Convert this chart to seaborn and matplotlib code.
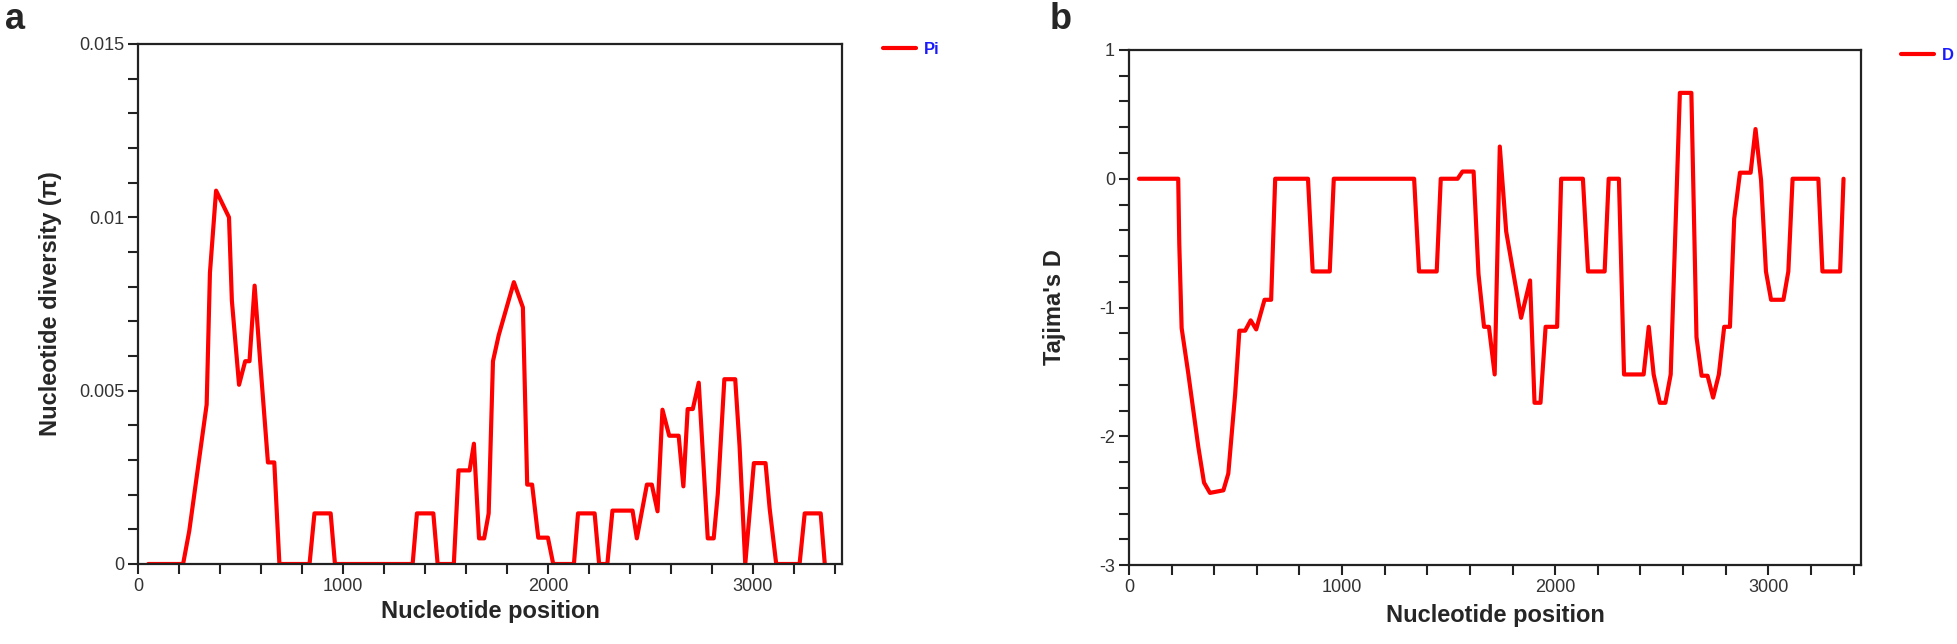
import numpy as np
import pandas as pd
import seaborn as sns
import matplotlib
matplotlib.use("Agg")
import matplotlib.pyplot as plt
from matplotlib.ticker import MultipleLocator, FixedLocator

# ---- data ----
pi_pos = [50, 220, 250, 335, 351, 381, 444, 458, 493, 523,
          544, 569, 596, 634, 665, 690, 837, 861, 940, 961,
          1340, 1361, 1441, 1462, 1541, 1564, 1618, 1639, 1664, 1689,
          1711, 1732, 1760, 1834, 1878, 1899, 1923, 1953, 2000, 2026,
          2127, 2147, 2228, 2250, 2290, 2315, 2413, 2434, 2483, 2507,
          2535, 2559, 2592, 2638, 2661, 2682, 2707, 2736, 2780, 2809,
          2829, 2861, 2914, 2935, 2963, 3005, 3062, 3082, 3114, 3228,
          3253, 3331, 3351]
pi_val = [0, 0, .00095, .0046, .0084, .01077, .0100, .0076, .00517, .00585,
          .00585, .00803, .00585, .00293, .00293, 0, 0, .00146, .00146, 0,
          0, .00146, .00146, 0, 0, .0027, .0027, .00347, .00074, .00074,
          .00146, .00585, .0066, .00813, .0074, .00229, .00229, .00076, .00076, 0,
          0, .00146, .00146, 0, 0, .00154, .00154, .00074, .00229, .00229,
          .00152, .00445, .0037, .0037, .00224, .00447, .00447, .00523, .00074, .00074,
          .00203, .00533, .00533, .00342, 0, .00291, .00291, .0016, 0, 0,
          .00146, .00146, 0]

d_pos = [47, 231, 236, 247, 278, 325, 352, 380, 443, 466,
         498, 518, 545, 571, 597, 636, 667, 686, 840, 862,
         942, 961, 1338, 1361, 1444, 1463, 1542, 1565, 1617, 1640,
         1666, 1689, 1716, 1740, 1770, 1840, 1882, 1903, 1931, 1955,
         2009, 2028, 2130, 2154, 2232, 2251, 2299, 2323, 2415, 2439,
         2462, 2491, 2517, 2542, 2585, 2639, 2663, 2687, 2715, 2741,
         2768, 2793, 2820, 2840, 2867, 2917, 2940, 2966, 2989, 3013,
         3071, 3094, 3114, 3235, 3254, 3337, 3353]
d_val = [0, 0, -.51, -1.16, -1.51, -2.08, -2.36, -2.44, -2.42, -2.29,
         -1.675, -1.18, -1.18, -1.10, -1.17, -.94, -.94, 0, 0, -.72,
         -.72, 0, 0, -.72, -.72, 0, 0, .056, .056, -.74,
         -1.15, -1.15, -1.52, .25, -.41, -1.08, -.79, -1.74, -1.74, -1.15,
         -1.15, 0, 0, -.72, -.72, 0, 0, -1.52, -1.52, -1.15,
         -1.52, -1.74, -1.74, -1.52, .667, .667, -1.23, -1.53, -1.53, -1.70,
         -1.52, -1.15, -1.15, -.31, .047, .047, .386, -.01, -.72, -.94,
         -.94, -.72, 0, 0, -.72, -.72, 0]

x_ticks = [0, 1000, 2000, 3000]
pi_ticks = [0, 0.005, 0.01, 0.015]
pi_ticklabels = ["0", "0.005", "0.01", "0.015"]
d_ticks = [-3, -2, -1, 0, 1]
d_ticklabels = ["-3", "-2", "-1", "0", "1"]

pi_df = pd.DataFrame({"pos": pi_pos, "Pi": pi_val})
d_df = pd.DataFrame({"pos": d_pos, "D": d_val})

sns.set_style("ticks")
plt.rcParams["font.family"] = ["Liberation Sans", "DejaVu Sans"]

W, H = 1958, 644
fig = plt.figure(figsize=(W / 100, H / 100), dpi=100)
ax1 = fig.add_axes([138 / W, 1 - 564 / H, 704 / W, 520 / H])
ax2 = fig.add_axes([1129 / W, 1 - 565 / H, 732 / W, 515 / H])


def style_axis(ax, xlabel, ylabel, leg_label, xpad, ypad, leg_x):
    ax.set_xlim(0, 3435)
    ax.xaxis.set_major_locator(FixedLocator(x_ticks))
    ax.xaxis.set_minor_locator(MultipleLocator(200))
    ax.set_xticklabels([str(t) for t in x_ticks])
    for sp in ax.spines.values():
        sp.set_visible(True)
        sp.set_linewidth(1.6)
        sp.set_color("#222222")
    ax.tick_params(which="both", direction="out", length=7, width=1.5,
                   color="#222222", labelsize=13, labelcolor="#333333", pad=3)
    ax.set_xlabel(xlabel, fontsize=17, fontweight="bold", labelpad=xpad)
    ax.set_ylabel(ylabel, fontsize=17, fontweight="bold", labelpad=ypad)
    leg = ax.legend([leg_label], loc="center left", bbox_to_anchor=(leg_x, 0.99),
                    frameon=False, handlelength=2.0, handletextpad=0.45,
                    borderaxespad=0, borderpad=0,
                    prop={"weight": "bold", "size": 12}, labelcolor="#1a1aff")
    return leg


sns.lineplot(data=pi_df, x="pos", y="Pi", ax=ax1, color="#ff0000", linewidth=3,
             sort=False, estimator=None)
ax1.set_ylim(0, 0.015)
ax1.yaxis.set_major_locator(FixedLocator(pi_ticks))
ax1.yaxis.set_minor_locator(MultipleLocator(0.001))
ax1.set_yticklabels(pi_ticklabels)
style_axis(ax1, "Nucleotide position", "Nucleotide diversity (\u03c0)", "Pi", 4, 12,
           1 + (883 - 842) / 704)

sns.lineplot(data=d_df, x="pos", y="D", ax=ax2, color="#ff0000", linewidth=3,
             sort=False, estimator=None)
ax2.set_ylim(-3, 1)
ax2.yaxis.set_major_locator(FixedLocator(d_ticks))
ax2.yaxis.set_minor_locator(MultipleLocator(0.2))
ax2.set_yticklabels(d_ticklabels)
style_axis(ax2, "Nucleotide position", "Tajima's D", "D", 6, 24,
           1 + (1901 - 1861) / 732)

fig.text(5 / W, 1 - 2 / H, "a", fontsize=26, fontweight="bold", va="top", ha="left")
fig.text(1050 / W, 1 - 2 / H, "b", fontsize=26, fontweight="bold", va="top", ha="left")

fig.savefig("out.png", dpi=100)
